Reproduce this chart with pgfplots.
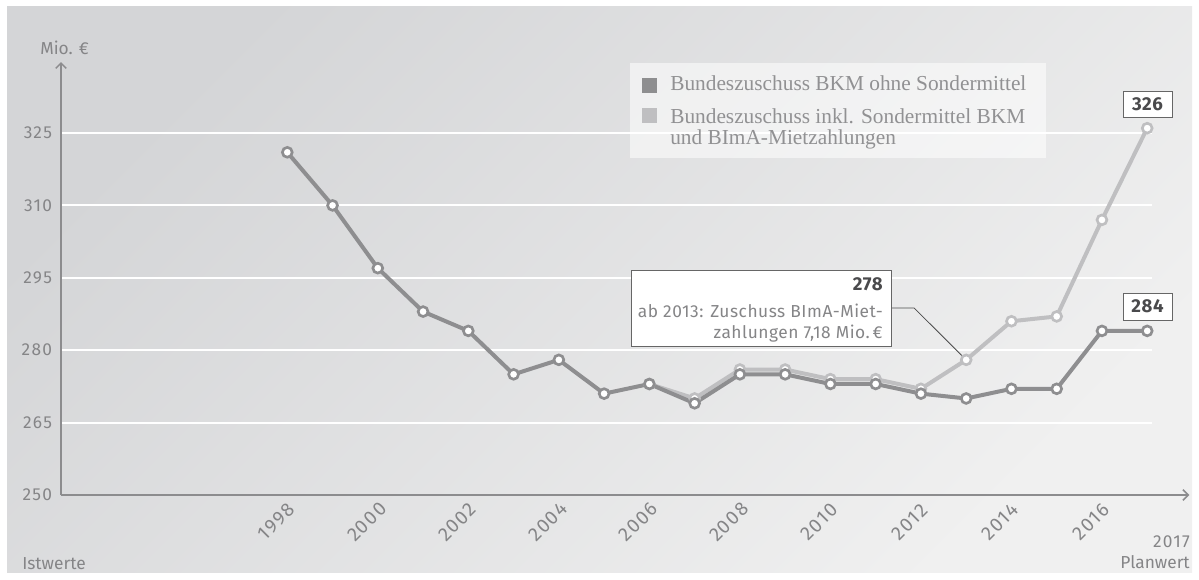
\documentclass[border=0pt]{standalone}
\usepackage{pgfplots}
\pgfplotsset{compat=1.18}
\usepackage{fontspec}
\setmainfont{Fira Sans}
\newfontfamily\numfont[LetterSpace=7]{Fira Sans}
\newfontfamily\anfont[LetterSpace=3]{Fira Sans}
\newfontfamily\legfont{Liberation Serif}
\usetikzlibrary{arrows.meta}
\definecolor{dk}{HTML}{8E8E90}
\definecolor{lt}{HTML}{BFBFC1}
\definecolor{txt}{HTML}{858587}
\definecolor{ax}{HTML}{8C8C8E}
\definecolor{bgA}{HTML}{D4D5D7}
\definecolor{bgB}{HTML}{F0F0F0}
\definecolor{boxtxt}{HTML}{4A4A4C}
\begin{document}
\begin{tikzpicture}[x=0.75pt,y=0.75pt]
\path[use as bounding box] (0,0) rectangle (1199,579);
\fill[white] (0,0) rectangle (1199,579);
\shade[top color=bgA,bottom color=bgB,shading angle=45] (7,7) rectangle (1192,572);
% legend box
\fill[white,opacity=0.55] (630,516) rectangle (1046,421);
\begin{axis}[
  at={(45.75pt,63pt)}, anchor=south west,
  scale only axis, width=848.6pt, height=325.8pt,
  xmin=1993, xmax=2018, ymin=250, ymax=340,
  clip=false,
  axis line style={draw=none}, tick style={draw=none},
  xtick={1998,2000,...,2016},
  ytick={250,265,280,295,310,325},
  /pgf/number format/1000 sep={},
  /pgf/number format/assume math mode=true,
  xticklabel style={font=\numfont\fontsize{14.5}{16}\selectfont, text=txt, xshift=-8.25pt, yshift=-20.25pt, rotate=45, anchor=center},
  yticklabel style={font=\numfont\fontsize{13}{15}\selectfont, text=txt, xshift=-3.25pt},
]
% grid
\foreach \v in {265,280,295,310,325} {
  \edef\tmp{\noexpand\draw[white, line width=1.5pt] (axis cs:1993,\v) -- (axis cs:2017.1,\v);}
  \tmp
}
% axes
\draw[ax, line width=1.1pt, -{Straight Barb[length=4pt,width=8pt]}] (axis cs:1993,250) -- (axis cs:2017.93,250);
\draw[ax, line width=1.1pt, -{Straight Barb[length=4pt,width=8pt]}] (axis cs:1993,250) -- (axis cs:1993,339.7);
% connector
\draw[black!70, line width=0.6pt] (axis cs:2011.32,288.74) -- (axis cs:2011.85,288.74) -- (axis cs:2013,278);
\addplot[lt, line width=3pt, mark=*, mark size=3.7pt, mark options={fill=white, draw=lt, line width=2pt}] coordinates {
(2006,273) (2007,270) (2008,276) (2009,276) (2010,274) (2011,274) (2012,272) (2013,278) (2014,286) (2015,287) (2016,307) (2017,326)
};
\addplot[dk, line width=3pt, mark=*, mark size=3.7pt, mark options={fill=white, draw=dk, line width=2pt}] coordinates {
(1998,321) (1999,310) (2000,297) (2001,288) (2002,284) (2003,275) (2004,278) (2005,271) (2006,273) (2007,269) (2008,275) (2009,275) (2010,273) (2011,273) (2012,271) (2013,270) (2014,272) (2015,272) (2016,284) (2017,284)
};
\end{axis}
% legend
\fill[dk] (642,501) rectangle (657,486);
\fill[lt] (642,471) rectangle (657,456);
\node[anchor=base west, inner sep=0pt, text=txt!90, font=\legfont\fontsize{16}{19}\selectfont] at (670,488) {Bundeszuschuss BKM ohne Sondermittel};
\node[anchor=base west, inner sep=0pt, text=txt!90, font=\legfont\fontsize{16}{19}\selectfont] at (670,455) {Bundeszuschuss inkl. Sondermittel BKM};
\node[anchor=base west, inner sep=0pt, text=txt!90, font=\legfont\fontsize{16}{19}\selectfont] at (670,434) {und BImA-Mietzahlungen};
% annotation box
\draw[fill=white, draw=black!60, line width=0.6pt] (631,309) rectangle (891,233);
\node[anchor=base east, inner sep=0pt, text=boxtxt, font=\anfont\bfseries\fontsize{14}{16}\selectfont] at (883,288) {278};
\node[anchor=base east, inner sep=0pt, text=txt, font=\anfont\fontsize{13}{15}\selectfont] at (883,262) {ab 2013: Zuschuss BImA-Miet-};
\node[anchor=base east, inner sep=0pt, text=txt, font=\anfont\fontsize{13}{15}\selectfont] at (883,241) {zahlungen 7,18 Mio.\,€};
% value boxes
\draw[fill=white, draw=black!60, line width=0.6pt] (1123,488) rectangle (1172,462);
\node[text=boxtxt, font=\anfont\bfseries\fontsize{14}{16}\selectfont, inner sep=0pt] at (1147.5,475) {326};
\draw[fill=white, draw=black!60, line width=0.6pt] (1123,286) rectangle (1172,259);
\node[text=boxtxt, font=\anfont\bfseries\fontsize{14}{16}\selectfont, inner sep=0pt] at (1147.5,272.5) {284};
% axis texts
\node[anchor=base west, inner sep=0pt, text=txt, font=\fontsize{13}{15}\selectfont] at (40,524) {Mio. €};
\node[anchor=base east, inner sep=0pt, text=txt, font=\numfont\fontsize{13}{15}\selectfont] at (1190,32) {2017};
\node[anchor=base east, inner sep=0pt, text=txt, font=\fontsize{13}{15}\selectfont] at (1190,11) {Planwert};
\node[anchor=base west, inner sep=0pt, text=txt, font=\fontsize{13}{15}\selectfont] at (22,10) {Istwerte};
\end{tikzpicture}
\end{document}
